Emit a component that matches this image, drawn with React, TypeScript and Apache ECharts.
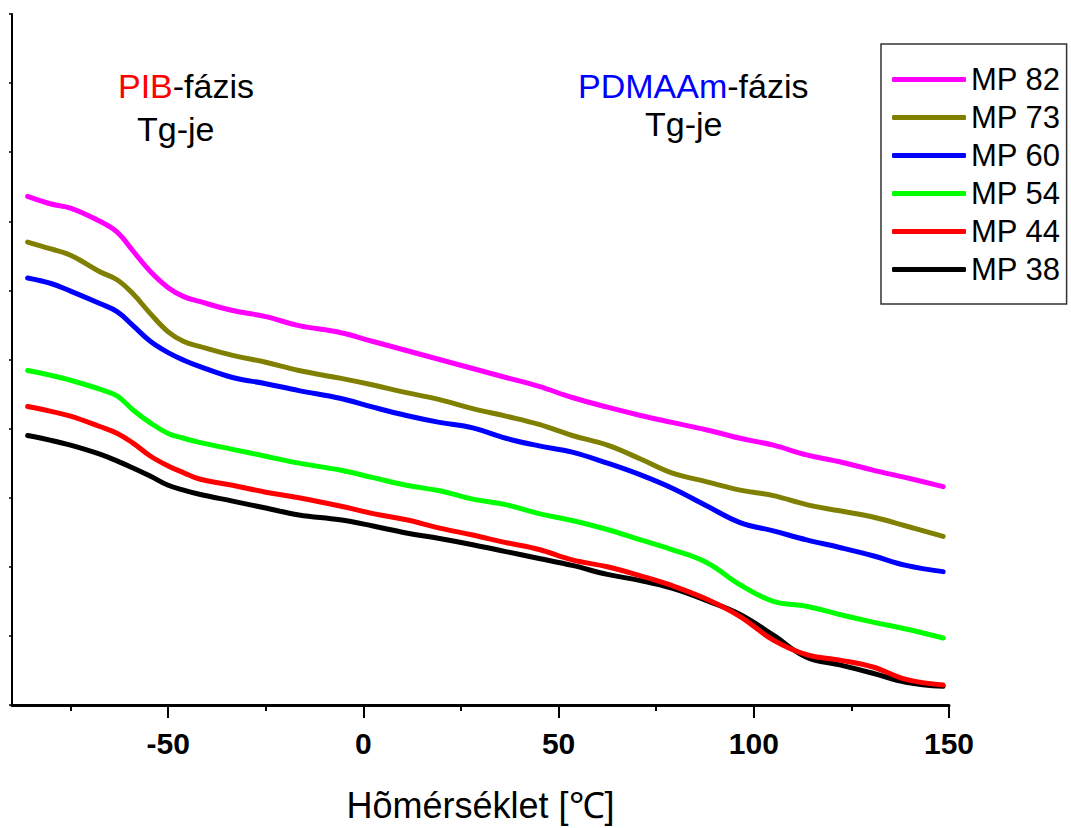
import React, { useEffect, useRef } from "react";
import * as echarts from "echarts";

// Temperatures (°C) sampled along the curves
const temps = [-86, -80, -75, -67.5, -63, -59, -54.5, -50, -46, -42, -33.5, -25, -16.5, -6, 2.5, 11, 19.5, 28, 36.5, 45, 53.5, 62.5, 71, 79, 88, 96.5, 105, 113.5, 122, 130.5, 139, 148.5];

const mp82 = [7.36, 7.25, 7.19, 7.0, 6.84, 6.57, 6.27, 6.04, 5.91, 5.84, 5.71, 5.62, 5.49, 5.39, 5.26, 5.13, 5.0, 4.87, 4.74, 4.61, 4.45, 4.31, 4.19, 4.09, 3.98, 3.86, 3.76, 3.62, 3.52, 3.4, 3.29, 3.16];
const mp73 = [6.7, 6.6, 6.51, 6.27, 6.15, 5.95, 5.66, 5.4, 5.26, 5.19, 5.06, 4.96, 4.84, 4.73, 4.63, 4.52, 4.42, 4.29, 4.18, 4.06, 3.9, 3.76, 3.56, 3.36, 3.23, 3.11, 3.03, 2.9, 2.81, 2.72, 2.59, 2.44];
const mp60 = [6.18, 6.1, 5.99, 5.81, 5.69, 5.49, 5.26, 5.1, 4.99, 4.9, 4.74, 4.65, 4.55, 4.44, 4.31, 4.19, 4.09, 4.01, 3.86, 3.75, 3.66, 3.5, 3.33, 3.14, 2.88, 2.64, 2.52, 2.39, 2.28, 2.16, 2.02, 1.93];
const mp54 = [4.84, 4.77, 4.7, 4.57, 4.47, 4.27, 4.08, 3.93, 3.86, 3.8, 3.7, 3.6, 3.5, 3.4, 3.29, 3.18, 3.1, 2.98, 2.9, 2.77, 2.67, 2.54, 2.39, 2.25, 2.06, 1.74, 1.5, 1.43, 1.31, 1.2, 1.1, 0.97];
const mp44 = [4.32, 4.25, 4.18, 4.03, 3.93, 3.79, 3.6, 3.46, 3.36, 3.27, 3.18, 3.08, 3.0, 2.88, 2.77, 2.68, 2.56, 2.46, 2.35, 2.25, 2.1, 2.0, 1.87, 1.73, 1.53, 1.28, 0.94, 0.73, 0.65, 0.55, 0.37, 0.29];
const mp38 = [3.9, 3.83, 3.76, 3.63, 3.53, 3.43, 3.31, 3.18, 3.11, 3.05, 2.95, 2.85, 2.75, 2.68, 2.59, 2.49, 2.41, 2.32, 2.22, 2.12, 2.02, 1.89, 1.8, 1.69, 1.51, 1.31, 1.01, 0.69, 0.58, 0.46, 0.33, 0.27];

const seriesNames = ["MP 38", "MP 44", "MP 54", "MP 60", "MP 73", "MP 82"];
const seriesValues = [mp38, mp44, mp54, mp60, mp73, mp82];
const seriesColors = ["#000000", "#FF0000", "#00FF00", "#0000FF", "#808000", "#FF00FF"];

const majorTicks = [-50, 0, 50, 100, 150];
const minorTicks = [-75, -25, 25, 75, 125];

const FONT = "'Liberation Sans', Arial, sans-serif";

export default function App() {
  const ref = useRef<HTMLDivElement>(null);
  useEffect(() => {
    if (!ref.current) return;
    const chart = echarts.init(ref.current, undefined, { renderer: "svg" });
    const series = seriesNames.map((name, i) => ({
      name,
      type: "line",
      xAxisIndex: 0,
      data: temps.map((t, j) => [t, seriesValues[i][j]]),
      symbol: "none",
      smooth: 0.4,
      lineStyle: { color: seriesColors[i], width: 5, cap: "round" },
      itemStyle: { color: seriesColors[i] },
      z: 2 + i,
    }));
    chart.setOption({
      animation: false,
      backgroundColor: "#ffffff",
      grid: { left: 12, top: 14, right: 122, bottom: 120, containLabel: false },
      xAxis: [
        {
          type: "value",
          min: -90,
          max: 150,
          position: "bottom",
          axisLine: { show: true, onZero: false, lineStyle: { color: "#000", width: 3 } },
          axisTick: { show: true, inside: false, length: 13, lineStyle: { color: "#000", width: 2 }, customValues: majorTicks },
          axisLabel: {
            show: true,
            customValues: majorTicks,
            margin: 23,
            color: "#000",
            fontSize: 30,
            fontWeight: "bold",
            fontFamily: FONT,
          },
          splitLine: { show: false },
          name: "Hõmérséklet [℃]",
          nameLocation: "middle",
          nameGap: 82,
          nameTextStyle: { color: "#000", fontSize: 36, fontFamily: FONT },
        },
        {
          type: "value",
          min: -90,
          max: 150,
          position: "bottom",
          axisLine: { show: false, onZero: false },
          axisTick: { show: true, inside: false, length: 6, lineStyle: { color: "#000", width: 2 }, customValues: minorTicks },
          axisLabel: { show: false },
          splitLine: { show: false },
        },
      ],
      yAxis: {
        type: "value",
        min: 0,
        max: 10,
        interval: 1,
        axisLine: { show: true, onZero: false, lineStyle: { color: "#000", width: 2 } },
        axisTick: { show: true, inside: false, length: 3, lineStyle: { color: "#000", width: 1.5 } },
        axisLabel: { show: false },
        splitLine: { show: false },
      },
      legend: {
        orient: "vertical",
        left: 881,
        top: 44,
        data: [...seriesNames].reverse(),
        backgroundColor: "#fff",
        borderColor: "#333",
        borderWidth: 1.5,
        borderRadius: 0,
        padding: [20, 6, 19, 11],
        icon: "roundRect",
        itemWidth: 74,
        itemHeight: 5,
        itemGap: 7,
        textStyle: { color: "#000", fontSize: 31, fontFamily: FONT, lineHeight: 31 },
      },
      graphic: [
        {
          type: "text",
          left: 118,
          top: 69,
          style: {
            text: "{r|PIB}{k|-fázis}",
            rich: {
              r: { fill: "#FF0000", fontSize: 34, fontFamily: FONT },
              k: { fill: "#000000", fontSize: 34, fontFamily: FONT },
            },
          },
        },
        {
          type: "text",
          left: 137,
          top: 112,
          style: { text: "Tg-je", fill: "#000", fontSize: 34, fontFamily: FONT },
        },
        {
          type: "text",
          left: 578,
          top: 69,
          style: {
            text: "{b|PDMAAm}{k|-fázis}",
            rich: {
              b: { fill: "#0000FF", fontSize: 34, fontFamily: FONT },
              k: { fill: "#000000", fontSize: 34, fontFamily: FONT },
            },
          },
        },
        {
          type: "text",
          left: 645,
          top: 107,
          style: { text: "Tg-je", fill: "#000", fontSize: 34, fontFamily: FONT },
        },
      ],
      series,
    });
    return () => chart.dispose();
  }, []);
  return <div ref={ref} style={{ width: 1071, height: 828, position: "absolute", left: 0, top: 0 }} />;
}
